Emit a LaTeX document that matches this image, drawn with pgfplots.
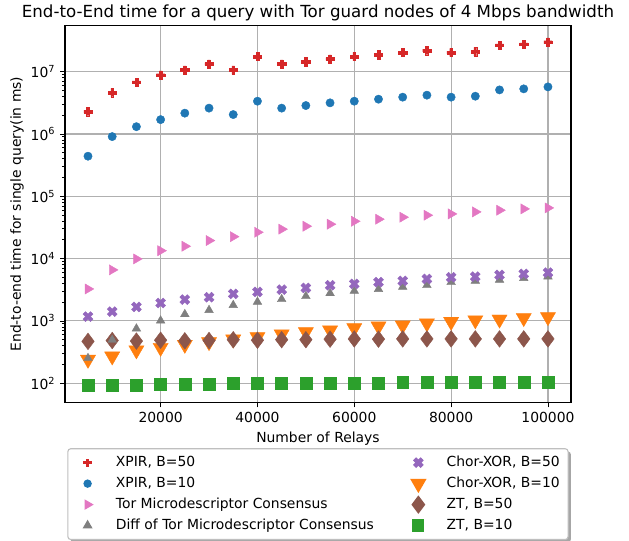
\documentclass[border=0pt]{standalone}
\usepackage{fontspec}
\setmainfont{DejaVu Sans}
\usepackage{pgfplots}
\pgfplotsset{compat=1.18}
\usetikzlibrary{shadows}

\definecolor{tred}{HTML}{D62728}
\definecolor{tblue}{HTML}{1F77B4}
\definecolor{tpink}{HTML}{E377C2}
\definecolor{tgray}{HTML}{7F7F7F}
\definecolor{tpurple}{HTML}{9467BD}
\definecolor{torange}{HTML}{FF7F0E}
\definecolor{tbrown}{HTML}{8C564B}
\definecolor{tgreen}{HTML}{2CA02C}

% filled plus, like matplotlib 'P' (rotated 45 it gives 'X')
\pgfdeclareplotmark{Pfill}{%
  \pgfpathmoveto{\pgfqpoint{-0.333\pgfplotmarksize}{\pgfplotmarksize}}%
  \pgfpathlineto{\pgfqpoint{0.333\pgfplotmarksize}{\pgfplotmarksize}}%
  \pgfpathlineto{\pgfqpoint{0.333\pgfplotmarksize}{0.333\pgfplotmarksize}}%
  \pgfpathlineto{\pgfqpoint{\pgfplotmarksize}{0.333\pgfplotmarksize}}%
  \pgfpathlineto{\pgfqpoint{\pgfplotmarksize}{-0.333\pgfplotmarksize}}%
  \pgfpathlineto{\pgfqpoint{0.333\pgfplotmarksize}{-0.333\pgfplotmarksize}}%
  \pgfpathlineto{\pgfqpoint{0.333\pgfplotmarksize}{-\pgfplotmarksize}}%
  \pgfpathlineto{\pgfqpoint{-0.333\pgfplotmarksize}{-\pgfplotmarksize}}%
  \pgfpathlineto{\pgfqpoint{-0.333\pgfplotmarksize}{-0.333\pgfplotmarksize}}%
  \pgfpathlineto{\pgfqpoint{-\pgfplotmarksize}{-0.333\pgfplotmarksize}}%
  \pgfpathlineto{\pgfqpoint{-\pgfplotmarksize}{0.333\pgfplotmarksize}}%
  \pgfpathlineto{\pgfqpoint{-0.333\pgfplotmarksize}{0.333\pgfplotmarksize}}%
  \pgfpathclose
  \pgfusepathqfillstroke}

\begin{document}
\begin{tikzpicture}
\path[use as bounding box] (-46.8pt,-99.6pt) rectangle (406.1pt,289.9pt);
\begin{axis}[
    scale only axis,
    width=364.3pt, height=271.4pt,
    ymode=log,
    xmin=250, xmax=104750,
    ymin=48.9, ymax=5.47e7,
    axis line style={line width=0.8pt},
    tick pos=left,
    tick align=outside,
    major tick length=3.5pt,
    minor tick length=2pt,
    every tick/.style={black, line width=0.6pt},
    scaled x ticks=false,
    xtick={20000,40000,60000,80000,100000},
    xticklabels={20000,40000,60000,80000,100000},
    ytick={1e2,1e3,1e4,1e5,1e6,1e7},
    yticklabels={10\textsuperscript{2},10\textsuperscript{3},10\textsuperscript{4},10\textsuperscript{5},10\textsuperscript{6},10\textsuperscript{7}},
    grid=major,
    major grid style={color=black!31, line width=0.8pt},
    title={End-to-End time for a query with Tor guard nodes of 4 Mbps bandwidth},
    every axis title/.style={at={(axis description cs:0.5,1)}, anchor=base, yshift=6pt, font=\large},
    xlabel={Number of Relays},
    ylabel={End-to-end time for single query(in ms)},
    xlabel style={at={(axis description cs:0.5,0)}, anchor=base, yshift=-28.8pt},
    ylabel style={at={(axis description cs:-0.095,0.5)}, anchor=center},
    legend image code/.code={%
        \path (0pt,0pt) (23.8pt,0pt);
        \draw[#1] plot coordinates {(9.8pt,0pt)};},
    legend columns=2,
    legend style={
        at={(0.5,-0.121)}, anchor=north,
        draw=black!25, line width=0.8pt, rounded corners=2pt, fill=white,
        drop shadow={shadow xshift=2pt, shadow yshift=-2pt, opacity=0.35, fill=black},
        inner xsep=4pt, inner ysep=3pt,
        cells={anchor=west},
        nodes={inner sep=2pt, text height=7.5pt, text depth=2.5pt},
        /tikz/every odd column/.append style={column sep=4pt},
        /tikz/every even column/.append style={column sep=19.8pt},
        row sep=1.1pt,
    },
]

% drawing order as in the reference (gray over orange and brown, purple over gray)
\addplot[only marks, forget plot, color=tred, mark=Pfill, mark size=3pt, mark options={line width=0.3pt}] coordinates {
 (5000,2.29e6) (10000,4.62e6) (15000,6.78e6) (20000,8.8e6) (25000,1.06e7)
 (30000,1.33e7) (35000,1.06e7) (40000,1.75e7) (45000,1.33e7) (50000,1.44e7)
 (55000,1.60e7) (60000,1.75e7) (65000,1.88e7) (70000,2.03e7) (75000,2.18e7)
 (80000,2.03e7) (85000,2.10e7) (90000,2.66e7) (95000,2.76e7) (100000,2.98e7)
};
\addplot[only marks, forget plot, color=tblue, mark=*, mark size=3pt, mark options={line width=0.3pt}] coordinates {
 (5000,4.4e5) (10000,9.08e5) (15000,1.31e6) (20000,1.70e6) (25000,2.16e6)
 (30000,2.60e6) (35000,2.05e6) (40000,3.36e6) (45000,2.60e6) (50000,2.86e6)
 (55000,3.16e6) (60000,3.36e6) (65000,3.62e6) (70000,3.90e6) (75000,4.20e6)
 (80000,3.90e6) (85000,4.04e6) (90000,5.1e6) (95000,5.30e6) (100000,5.70e6)
};
\addplot[only marks, forget plot, color=tpink, mark=triangle*, mark size=4.2pt, mark options={rotate=-90, line width=0.3pt}] coordinates {
 (5000,3260) (10000,6590) (15000,9890) (20000,13400) (25000,15800)
 (30000,19500) (35000,22500) (40000,26500) (45000,29700) (50000,33100)
 (55000,35700) (60000,39800) (65000,42900) (70000,46200) (75000,49700)
 (80000,52200) (85000,56200) (90000,59800) (95000,62800) (100000,65100)
};
\addplot[only marks, forget plot, color=torange, mark=triangle*, mark size=6.3pt, mark options={rotate=180, line width=0.3pt}] coordinates {
 (5000,240) (10000,271) (15000,339) (20000,373) (25000,417)
 (30000,460) (35000,508) (40000,553) (45000,612) (50000,666)
 (55000,709) (60000,772) (65000,822) (70000,853) (75000,919)
 (80000,975) (85000,1030) (90000,1060) (95000,1120) (100000,1160)
};
\addplot[only marks, forget plot, color=tbrown, mark=diamond*, mark size=6pt, mark options={line width=0.3pt}] coordinates {
 (5000,470) (10000,485) (15000,475) (20000,490) (25000,480)
 (30000,485) (35000,500) (40000,490) (45000,500) (50000,500)
 (55000,510) (60000,515) (65000,510) (70000,515) (75000,515)
 (80000,515) (85000,515) (90000,515) (95000,515) (100000,515)
};
\addplot[only marks, forget plot, color=tgray, mark=triangle*, mark size=3.6pt, mark options={line width=0.3pt}] coordinates {
 (5000,252) (10000,495) (15000,752) (20000,1010) (25000,1280)
 (30000,1490) (35000,1790) (40000,2020) (45000,2230) (50000,2490)
 (55000,2780) (60000,3030) (65000,3230) (70000,3510) (75000,3740)
 (80000,4180) (85000,4390) (90000,4550) (95000,4850) (100000,5140)
};
\addplot[only marks, forget plot, color=tpurple, mark=Pfill, mark size=3.8pt, mark options={rotate=45, line width=0.3pt}] coordinates {
 (5000,1170) (10000,1410) (15000,1680) (20000,1940) (25000,2200)
 (30000,2400) (35000,2710) (40000,2920) (45000,3180) (50000,3390)
 (55000,3740) (60000,3930) (65000,4180) (70000,4390) (75000,4720)
 (80000,5030) (85000,5140) (90000,5480) (95000,5680) (100000,5960)
};
\addplot[only marks, forget plot, color=tgreen, mark=square*, mark size=4.3pt, mark options={line width=0.3pt}] coordinates {
 (5000,94) (10000,94) (15000,93) (20000,97) (25000,96)
 (30000,96) (35000,100) (40000,100) (45000,100) (50000,100)
 (55000,100) (60000,100) (65000,101) (70000,105) (75000,105)
 (80000,105) (85000,105) (90000,105) (95000,105) (100000,105)
};

% legend, filled row by row so that the columns read as in the reference
\addlegendimage{color=tred, mark=Pfill, mark size=2.6pt}
\addlegendentry{XPIR, B=50}
\addlegendimage{color=tpurple, mark=Pfill, mark size=3.5pt, mark options={rotate=45}}
\addlegendentry{Chor-XOR, B=50}
\addlegendimage{color=tblue, mark=*, mark size=2.6pt}
\addlegendentry{XPIR, B=10}
\addlegendimage{color=torange, mark=triangle*, mark size=6pt, mark options={rotate=180}}
\addlegendentry{Chor-XOR, B=10}
\addlegendimage{color=tpink, mark=triangle*, mark size=3.6pt, mark options={rotate=-90}}
\addlegendentry{Tor Microdescriptor Consensus}
\addlegendimage{color=tbrown, mark=diamond*, mark size=6pt}
\addlegendentry{ZT, B=50}
\addlegendimage{color=tgray, mark=triangle*, mark size=3.4pt}
\addlegendentry{Diff of Tor Microdescriptor Consensus}
\addlegendimage{color=tgreen, mark=square*, mark size=4pt}
\addlegendentry{ZT, B=10}
\end{axis}
\end{tikzpicture}
\end{document}
